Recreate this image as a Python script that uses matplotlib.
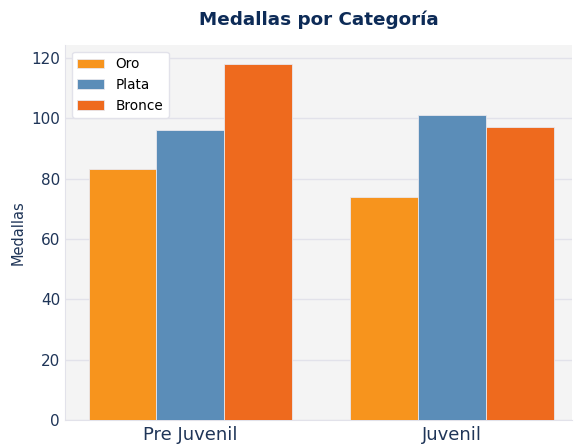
import matplotlib
matplotlib.use("Agg")
import matplotlib.pyplot as plt
import numpy as np

categorias = ["Pre Juvenil", "Juvenil"]
oro = [83, 74]
plata = [96, 101]
bronce = [118, 97]
series = ["Oro", "Plata", "Bronce"]
colores = ["#F7941D", "#5B8DB8", "#EE6A1E"]

NAVY = "#1F3558"

fig = plt.figure(figsize=(5.75, 4.48), dpi=100)
fig.patch.set_facecolor("white")
ax = fig.add_axes([0.113, 0.0625, 0.882, 0.8375])
ax.set_facecolor("#F4F4F4")

x = np.arange(len(categorias))
w = 0.26
for i, (vals, name, c) in enumerate(zip([oro, plata, bronce], series, colores)):
    ax.bar(x + (i - 1) * w, vals, w, label=name, color=c,
           edgecolor="#E8E8EE", linewidth=0.6, zorder=3)

ax.set_xlim(-0.48, 1.46)
ax.set_ylim(0, 124.3)
ax.set_yticks(range(0, 121, 20))
ax.set_xticks(x)
ax.set_xticklabels(categorias, fontsize=13, color=NAVY)
ax.tick_params(axis="y", labelsize=11, colors=NAVY, length=0)
ax.tick_params(axis="x", length=0, pad=4)
ax.grid(axis="y", color="#E2E2EA", linewidth=1, zorder=0)
for s in ax.spines.values():
    s.set_color("#E2E2EA")
ax.spines["top"].set_visible(False)
ax.spines["right"].set_visible(False)

ax.set_ylabel("Medallas", fontsize=10.5, color=NAVY)
ax.set_title("Medallas por Categoría", fontsize=13.2, fontweight="bold",
             color="#0D2B57", pad=14)

leg = ax.legend(loc="upper left", fontsize=9.8, frameon=True, facecolor="white",
                edgecolor="#E2E2EA", framealpha=1, fancybox=True)

fig.savefig("out.png", dpi=100)
